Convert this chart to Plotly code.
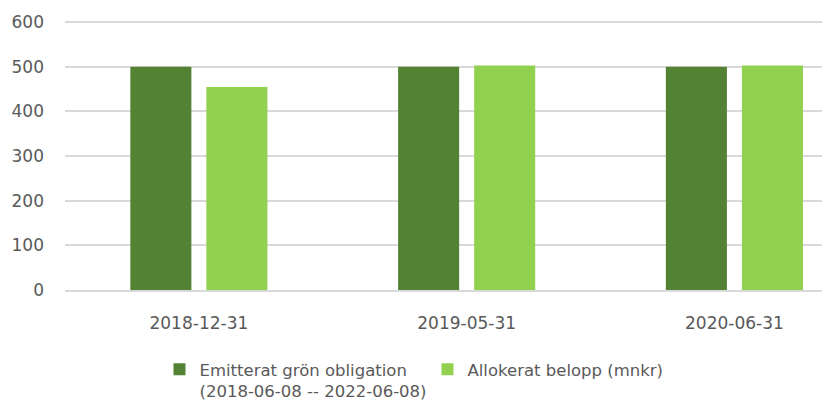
import plotly.graph_objects as go

categories = ["2018-12-31", "2019-05-31", "2020-06-31"]
emitterat = [500, 500, 500]
allokerat = [455, 503, 503]
series_names = ["Emitterat grön obligation<br>(2018-06-08 -- 2022-06-08)", "Allokerat belopp (mnkr)"]
y_ticks = [0, 100, 200, 300, 400, 500, 600]

font_family = "DejaVu Sans"
text_color = "#595959"

fig = go.Figure()
fig.add_trace(go.Bar(x=categories, y=emitterat, name=series_names[0],
                     marker=dict(color="#548235", line=dict(width=0))))
fig.add_trace(go.Bar(x=categories, y=allokerat, name=series_names[1],
                     marker=dict(color="#92D050", line=dict(width=0))))

# page body has an 8px default margin, so the figure is sized 8px smaller
fig.update_layout(
    width=822, height=397,
    margin=dict(l=57, r=0, t=12, b=115, autoexpand=False),
    paper_bgcolor="white", plot_bgcolor="white",
    barmode="group", bargap=0.432, bargroupgap=0.197,
    font=dict(family=font_family, size=17, color=text_color),
    showlegend=True,
    legend=dict(orientation="h", x=0.1235, xanchor="left", y=-0.23, yanchor="top",
                valign="top", font=dict(family=font_family, size=16.5, color=text_color),
                entrywidth=223, entrywidthmode="pixels", tracegroupgap=0),
    xaxis=dict(type="category", range=[-0.5, 2.357], showgrid=False, automargin=False,
               showline=True, linecolor="#d9d9d9", linewidth=1.5,
               ticks="", ticklabelstandoff=17, tickfont=dict(size=17, color=text_color)),
    yaxis=dict(range=[0, 605], tickvals=y_ticks, showgrid=True, gridcolor="#d9d9d9",
               gridwidth=1.5, zeroline=False, showline=False, ticks="", automargin=False,
               ticklabelstandoff=20, tickfont=dict(size=17, color=text_color)),
)

fig.write_html("out.html")
